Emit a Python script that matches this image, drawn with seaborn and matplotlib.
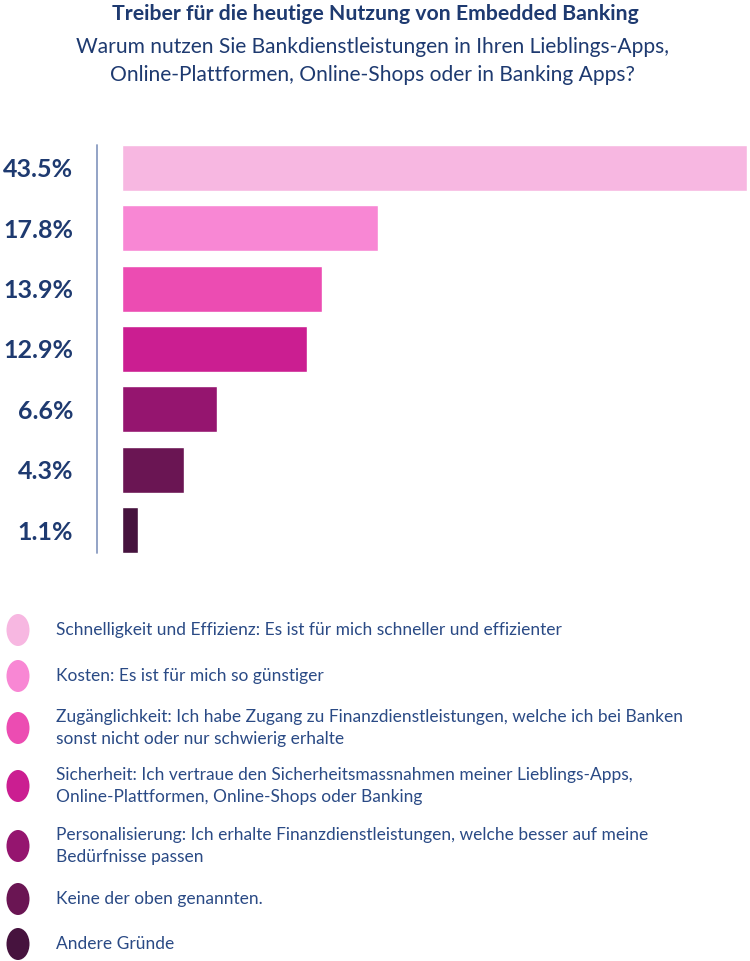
import matplotlib
matplotlib.use("Agg")
import matplotlib.pyplot as plt
from matplotlib.lines import Line2D
from matplotlib.patches import Ellipse
import seaborn as sns
import pandas as pd

# data
labels = ["43.5%", "17.8%", "13.9%", "12.9%", "6.6%", "4.3%", "1.1%"]
values = [43.5, 17.8, 13.9, 12.9, 6.6, 4.3, 1.1]
categories = [
    "Schnelligkeit und Effizienz: Es ist für mich schneller und effizienter",
    "Kosten: Es ist für mich so günstiger",
    "Zugänglichkeit: Ich habe Zugang zu Finanzdienstleistungen, welche ich bei Banken\nsonst nicht oder nur schwierig erhalte",
    "Sicherheit: Ich vertraue den Sicherheitsmassnahmen meiner Lieblings-Apps,\nOnline-Plattformen, Online-Shops oder Banking",
    "Personalisierung: Ich erhalte Finanzdienstleistungen, welche besser auf meine\nBedürfnisse passen",
    "Keine der oben genannten.",
    "Andere Gründe",
]
colors = ["#f7b7e1", "#f887d4", "#ec4cb2", "#cb1e91", "#95156f", "#6a1553", "#46133e"]

title = "Treiber für die heutige Nutzung von Embedded Banking"
subtitle = "Warum nutzen Sie Bankdienstleistungen in Ihren Lieblings-Apps,\nOnline-Plattformen, Online-Shops oder in Banking Apps?"

navy = "#1e3a70"
text_col = "#2a4a85"

sns.set_style("white")
plt.rcParams["font.family"] = ["Lato", "DejaVu Sans"]

W, H = 750, 961
fig = plt.figure(figsize=(W / 100, H / 100), dpi=100)

df = pd.DataFrame({"label": labels, "value": values, "cat": categories})

# bar axes in pixel layout
top, bottom = 137.75, 560.25
ax = fig.add_axes([122 / W, 1 - bottom / H, 625 / W, (bottom - top) / H])
sns.barplot(data=df, x="value", y="label", hue="label", palette=colors,
            orient="h", width=0.76, legend=False, ax=ax, saturation=1)
ax.set_xlim(0, 43.5)
ax.set_ylim(6.5, -0.5)
ax.set_xlabel("")
ax.set_ylabel("")
ax.set_xticks([])
for s in ax.spines.values():
    s.set_visible(False)
ax.tick_params(axis="y", length=0, pad=35)
for t in ax.get_yticklabels():
    t.set_fontweight("bold")
    t.set_fontsize(18)
    t.set_color(navy)

fig.add_artist(Line2D([97 / W, 97 / W], [1 - 145 / H, 1 - 553 / H],
                      color="#8a9cc2", lw=1.3))

# titles
fig.text(375 / W, 1 - 14 / H, title, ha="center", va="center",
         fontsize=15.3, fontweight="bold", color=navy)
fig.text(372 / W, 1 - 61 / H, subtitle, ha="center", va="center",
         fontsize=15.1, color=navy, linespacing=1.52)

# legend
lax = fig.add_axes([0, 0, 1, 1 - 600 / H])
lax.set_xlim(0, W)
lax.set_ylim(H, 600)
lax.axis("off")
leg_y = [630, 676, 728, 786, 846, 899, 944]
for y, c, txt in zip(leg_y, colors, categories):
    lax.add_patch(Ellipse((18, y), 23, 32, color=c, lw=0))
    lax.text(56, y, txt, ha="left", va="center", fontsize=12.5,
             color=text_col, linespacing=1.5)

fig.savefig("out.png", dpi=100)
